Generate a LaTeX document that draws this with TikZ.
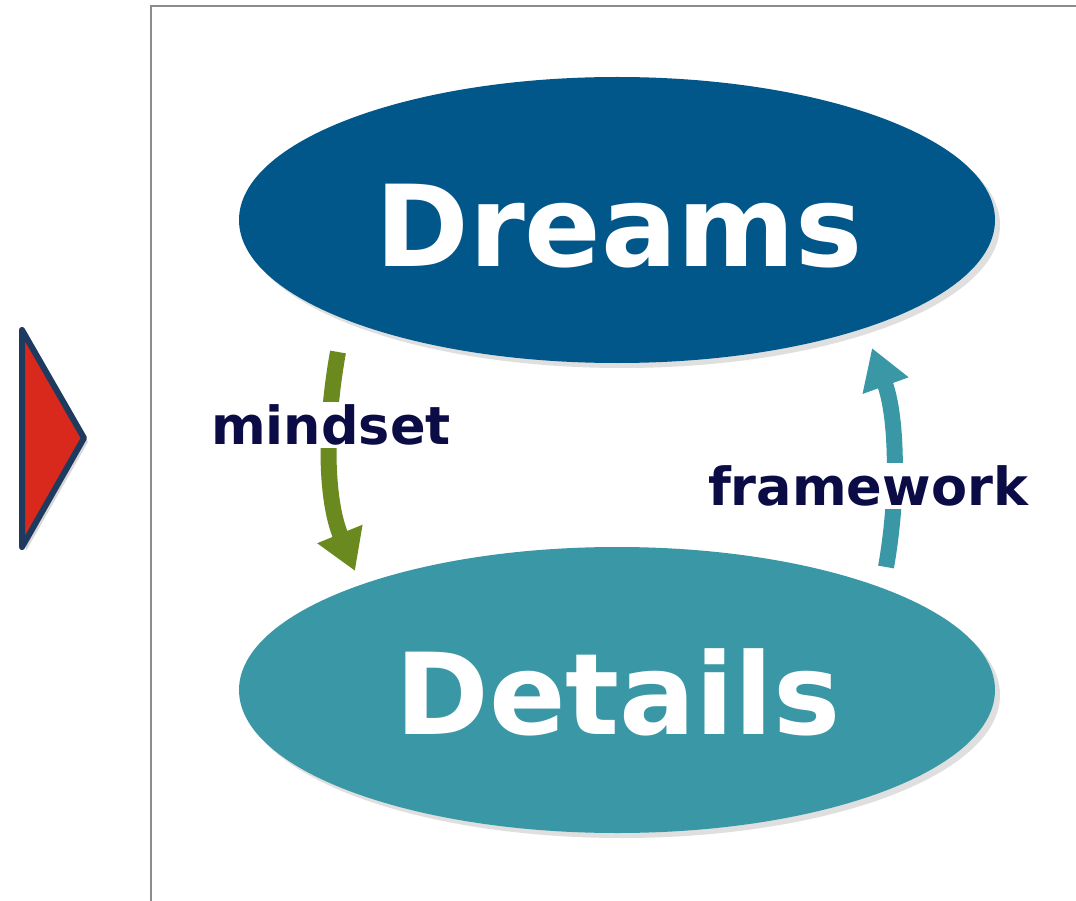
\documentclass[tikz,border=0pt]{standalone}
\usepackage{fontspec}
\setmainfont{DejaVu Sans}
\usetikzlibrary{shapes.geometric,shadows,arrows.meta}
\definecolor{dreamblue}{HTML}{02578A}
\definecolor{detailteal}{HTML}{3A97A5}
\definecolor{mindgreen}{HTML}{6A8A1F}
\definecolor{labelnavy}{HTML}{0B0B45}
\definecolor{trired}{HTML}{D9291C}
\definecolor{trinavy}{HTML}{1F3A5F}
\definecolor{framegray}{HTML}{8C8C8C}
\tikzset{
  oval/.style={ellipse, minimum width=756pt, minimum height=286pt, inner sep=0pt,
    drop shadow={shadow xshift=5pt, shadow yshift=-5pt, opacity=0.25}},
  bigtext/.style={text=white, font=\bfseries\fontsize{113}{120}\selectfont, inner sep=0pt},
  looplabel/.style={text=labelnavy, fill=white, font=\bfseries\fontsize{52.5}{60}\selectfont, inner sep=3pt},
  looparrow/.style={line width=16pt, -{Triangle[length=40pt,width=46pt]}}
}
\begin{document}
\begin{tikzpicture}[x=1pt,y=-1pt]
\useasboundingbox (0,0) rectangle (1076,901);
\fill[white] (0,0) rectangle (1076,901);
% frame
\coordinate (fbl) at (151,901);
\coordinate (ftl) at (151,6);
\coordinate (ftr) at (1076,6);
\draw[framegray, line width=2pt] (fbl) -- (ftl) -- (ftr);
% triangle marker
\coordinate (t1) at (22,330);
\coordinate (t2) at (84,438);
\coordinate (t3) at (22,547);
\filldraw[fill=trired, draw=trinavy, line width=6pt, line join=round,
  drop shadow={shadow xshift=4pt, shadow yshift=-4pt, opacity=0.3}] (t1) -- (t2) -- (t3) -- cycle;
% ellipses
\node[oval, fill=dreamblue] (dreams) at (617,220) {};
\node[bigtext] (dreamstxt) at (619,226) {Dreams};
\node[oval, fill=detailteal] (details) at (617,690) {};
\node[bigtext] (detailstxt) at (618,692) {Details};
% arrows
\coordinate (ms) at (338,352);
\coordinate (me) at (355,571);
\draw[looparrow, mindgreen] (ms) .. controls (324,430) and (326,500) .. (me);
\coordinate (fs) at (886,567);
\coordinate (fe) at (872,348);
\draw[looparrow, detailteal] (fs) .. controls (898,500) and (898,420) .. (fe);
% labels
\node[looplabel] (mindset) at (331,425) {mindset};
\node[looplabel] (framework) at (868,486) {framework};
\end{tikzpicture}
\end{document}
